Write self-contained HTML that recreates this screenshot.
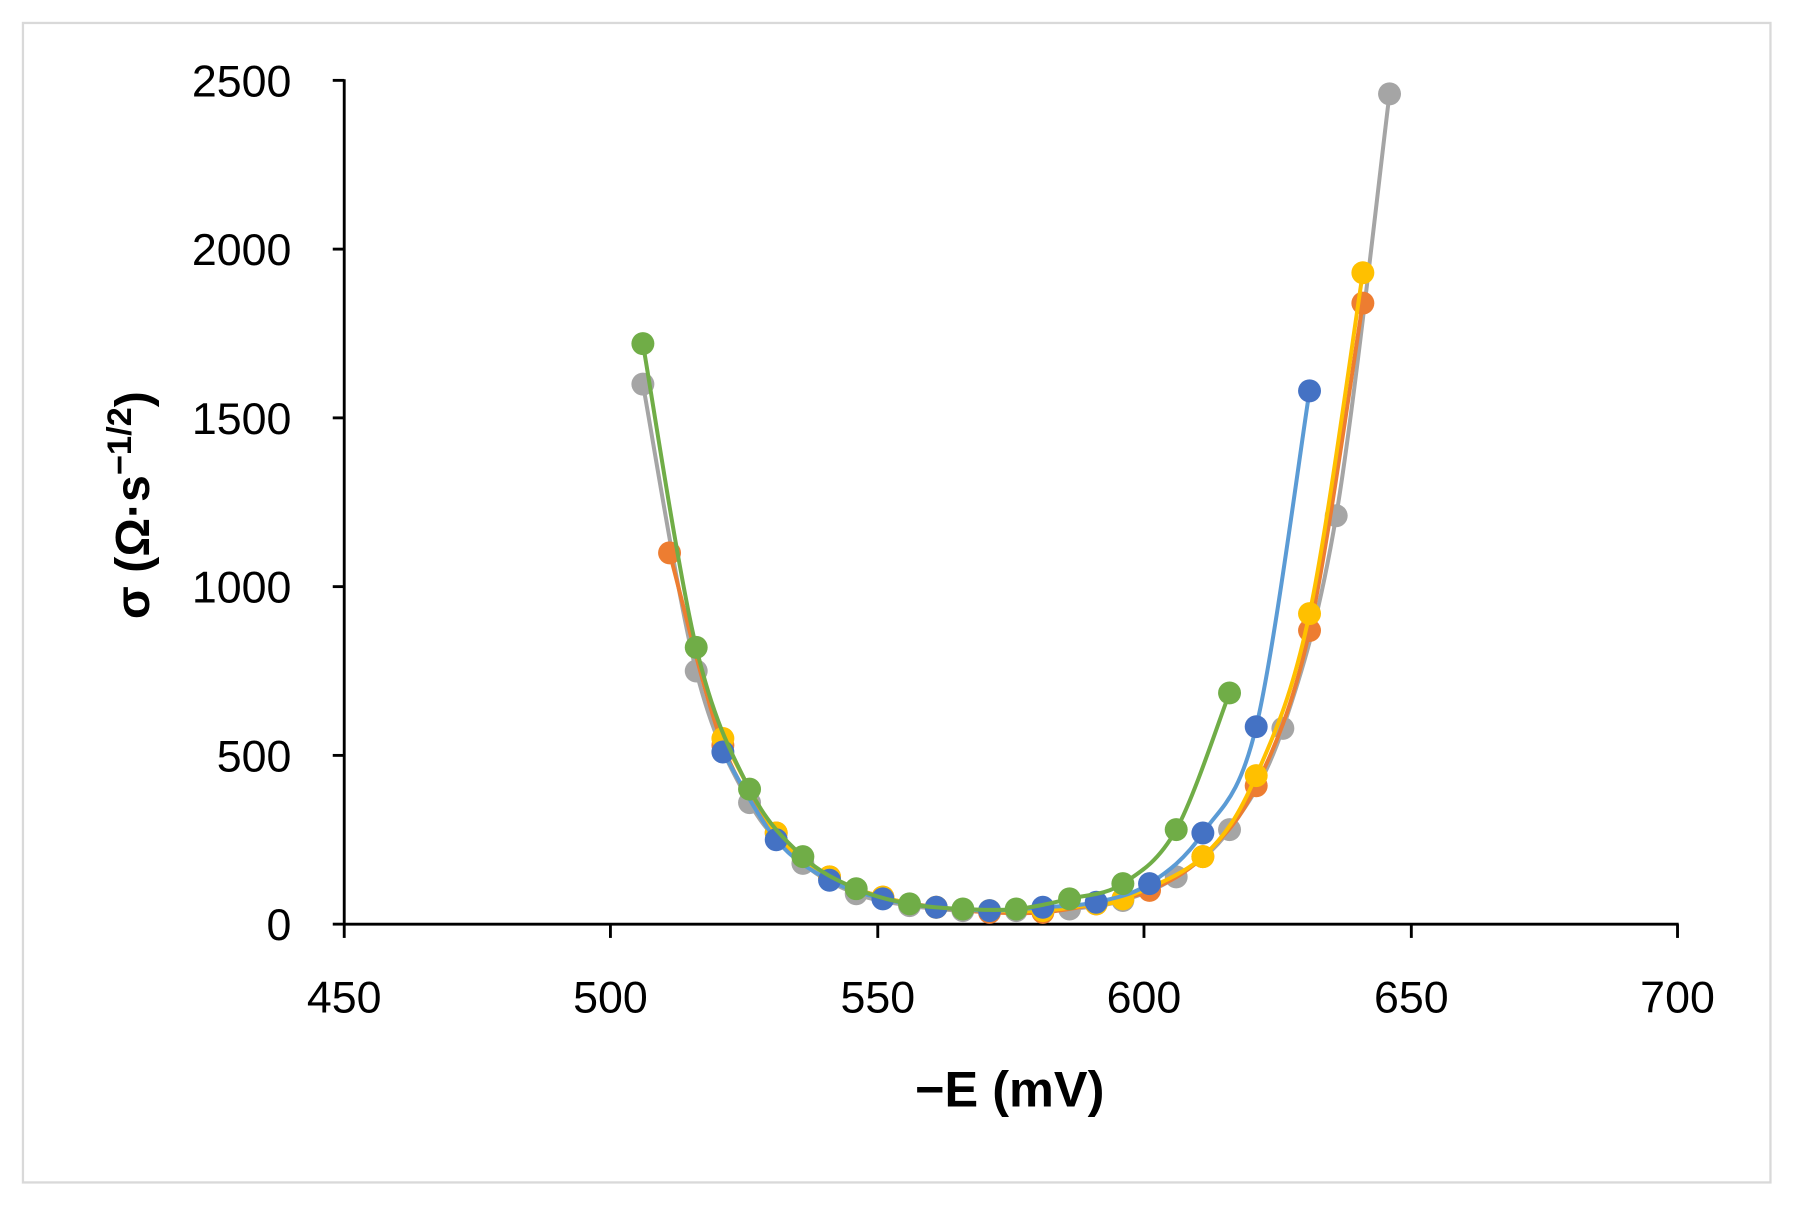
<!DOCTYPE html>
<html><head><meta charset="utf-8"><style>
html,body{margin:0;padding:0;background:#fff;}
svg{display:block}
text{font-family:"Liberation Sans",sans-serif;fill:#000}
</style></head><body>
<svg id="s" width="1798" height="1210" viewBox="0 0 1567 1054" preserveAspectRatio="none" xmlns="http://www.w3.org/2000/svg">
<rect x="0" y="0" width="1567" height="1054" fill="#fff"/>
<rect x="20" y="20" width="1523" height="1010" fill="#fff" stroke="#d9d9d9" stroke-width="2"/>
<g stroke="#000" stroke-width="2.5" fill="none">
<line x1="300" y1="69" x2="300" y2="806"/>
<line x1="299" y1="805" x2="1463" y2="805"/>
<line x1="290" y1="70" x2="300" y2="70"/>
<line x1="290" y1="217" x2="300" y2="217"/>
<line x1="290" y1="364" x2="300" y2="364"/>
<line x1="290" y1="511" x2="300" y2="511"/>
<line x1="290" y1="658" x2="300" y2="658"/>
<line x1="290" y1="805" x2="300" y2="805"/>
<line x1="300" y1="805" x2="300" y2="817"/>
<line x1="532" y1="805" x2="532" y2="817"/>
<line x1="765" y1="805" x2="765" y2="817"/>
<line x1="997" y1="805" x2="997" y2="817"/>
<line x1="1230" y1="805" x2="1230" y2="817"/>
<line x1="1462" y1="805" x2="1462" y2="817"/>
</g>
<g font-size="39" text-anchor="end">
<text x="254" y="84">2500</text>
<text x="254" y="231">2000</text>
<text x="254" y="378">1500</text>
<text x="254" y="525">1000</text>
<text x="254" y="672">500</text>
<text x="254" y="819">0</text>
</g>
<g font-size="39" text-anchor="middle">
<text x="300" y="882">450</text>
<text x="532" y="882">500</text>
<text x="765" y="882">550</text>
<text x="997" y="882">600</text>
<text x="1230" y="882">650</text>
<text x="1462" y="882">700</text>
</g>
<text x="880" y="964" font-size="44" font-weight="bold" text-anchor="middle">−E (mV)</text>
<text transform="translate(130,440) rotate(-90)" font-size="42" font-weight="bold" text-anchor="middle">σ (Ω·s<tspan font-size="30" dy="-16">−1/2</tspan><tspan dy="16">)</tspan></text>
<g id="series"></g>
</svg>
<script>
var X=function(e){return 300+(e-450)*4.648},Y=function(v){return 805-v*0.294};
var S=[
["#a5a5a5","#a5a5a5",[[506,1600],[516,750],[526,360],[536,180],[546,90],[556,55],[566,40],[576,40],[586,45],[596,70],[606,140],[616,280],[626,580],[636,1210],[646,2460]]],
["#ed7d31","#ed7d31",[[511,1100],[521,530],[531,270],[541,140],[551,80],[561,50],[571,35],[581,35],[591,60],[601,100],[611,200],[621,410],[631,870],[641,1840]]],
["#ffc000","#ffc000",[[521,550],[531,270],[541,140],[551,80],[561,50],[571,40],[581,40],[591,60],[596,75],[611,200],[621,440],[631,920],[641,1930]]],
["#5b9bd5","#4472c4",[[521,510],[531,250],[541,130],[551,75],[561,50],[571,40],[581,50],[591,65],[601,120],[611,270],[621,585],[631,1580]]],
["#70ad47","#70ad47",[[506,1720],[516,820],[526,400],[536,200],[546,105],[556,60],[566,45],[576,45],[586,75],[596,120],[606,280],[616,685]]]
];
var g=document.getElementById("series"),h="";
S.forEach(function(s){
 var p=s[2].map(function(d){return [X(d[0]),Y(d[1])]});
 var d="M"+p[0][0]+","+p[0][1];
 for(var i=0;i<p.length-1;i++){
  var p0=p[i-1]||p[i],p1=p[i],p2=p[i+1],p3=p[i+2]||p2,t=0.5/3;
  d+=" C"+(p1[0]+(p2[0]-p0[0])*t)+","+(p1[1]+(p2[1]-p0[1])*t)+" "+(p2[0]-(p3[0]-p1[0])*t)+","+(p2[1]-(p3[1]-p1[1])*t)+" "+p2[0]+","+p2[1];
 }
 h+='<path d="'+d+'" fill="none" stroke="'+s[0]+'" stroke-width="3.5"/>';
 p.forEach(function(q){h+='<circle cx="'+q[0]+'" cy="'+q[1]+'" r="10" fill="'+s[1]+'"/>';});
});
g.innerHTML=h;
</script>
</body></html>
